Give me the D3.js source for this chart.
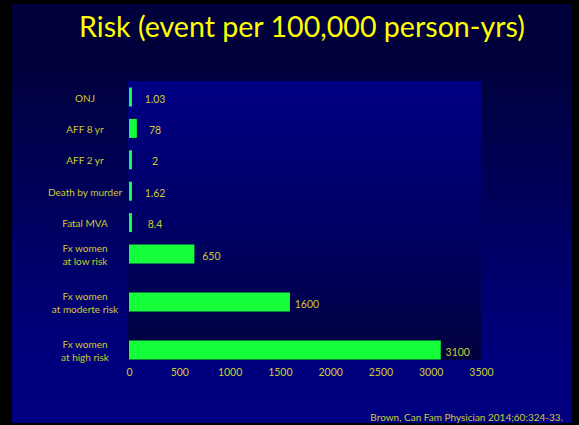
<!DOCTYPE html>
<html>
<head>
<meta charset="utf-8">
<script src="https://cdn.jsdelivr.net/npm/d3@7"></script>
<style>
  html, body { margin: 0; padding: 0; background: #000; }
  svg { display: block; }
</style>
</head>
<body>
<svg id="chart" width="579" height="425"></svg>
<script>
// ---- data ----
const categories = [
  ["ONJ"],
  ["AFF 8 yr"],
  ["AFF 2 yr"],
  ["Death by murder"],
  ["Fatal MVA"],
  ["Fx women", "at low risk"],
  ["Fx women", "at moderte risk"],
  ["Fx women", "at high risk"]
];
const values = [1.03, 78, 2, 1.62, 8.4, 650, 1600, 3100];
const valueLabels = ["1.03", "78", "2", "1.62", "8.4", "650", "1600", "3100"];
const tickValues = [0, 500, 1000, 1500, 2000, 2500, 3000, 3500];
const title = "Risk (event per 100,000 person-yrs)";
const source = "Brown, Can Fam Physician 2014;60:324-33.";

// ---- layout ----
const W = 579, H = 425;
const slide = {x: 12, y: 4, w: 560, h: 419};
const plot = {x0: 128, x1: 481, y0: 81, y1: 360};
const labelColor = "#cccc30";
const barColor = "#14ff3a";

const svg = d3.select("#chart");
const defs = svg.append("defs");

const bgGrad = defs.append("linearGradient").attr("id", "bg")
  .attr("x1", 0).attr("y1", 0).attr("x2", 0).attr("y2", 1);
bgGrad.append("stop").attr("offset", "0%").attr("stop-color", "#00003c");
bgGrad.append("stop").attr("offset", "12%").attr("stop-color", "#00003a");
bgGrad.append("stop").attr("offset", "60%").attr("stop-color", "#000068");
bgGrad.append("stop").attr("offset", "85%").attr("stop-color", "#00007e");
bgGrad.append("stop").attr("offset", "100%").attr("stop-color", "#000080");

const plotGrad = defs.append("linearGradient").attr("id", "plotbg")
  .attr("x1", 0).attr("y1", 0).attr("x2", 0).attr("y2", 1);
plotGrad.append("stop").attr("offset", "0%").attr("stop-color", "#000084");
plotGrad.append("stop").attr("offset", "50%").attr("stop-color", "#000066");
plotGrad.append("stop").attr("offset", "100%").attr("stop-color", "#00003e");

svg.append("rect").attr("width", W).attr("height", H).attr("fill", "#000");
svg.append("rect").attr("x", slide.x).attr("y", slide.y)
  .attr("width", slide.w).attr("height", slide.h).attr("fill", "url(#bg)");

svg.append("rect").attr("x", plot.x0).attr("y", plot.y0)
  .attr("width", plot.x1 - plot.x0).attr("height", plot.y1 - plot.y0)
  .attr("fill", "url(#plotbg)");

// title
svg.append("text").attr("x", 302).attr("y", 37)
  .attr("text-anchor", "middle")
  .attr("font-family", "Lato, 'Open Sans', sans-serif")
  .attr("font-size", 28.6).attr("fill", "#ffff00")
  .text(title);

// scales
const x = d3.scaleLinear().domain([0, 3500]).range([plot.x0 + 1, plot.x1]);
// piecewise: first five rows tighter, the three "Fx women" rows wider apart
const yIdx = d3.scaleLinear().domain([0, 5, 7]).range([97, 254, 350]);
const barH = 19;

const g = svg.append("g");

const rows = g.selectAll("g.row").data(values.map((v, i) => ({v, i})))
  .join("g").attr("class", "row");

rows.append("rect")
  .attr("x", x(0))
  .attr("y", d => yIdx(d.i) - barH / 2)
  .attr("width", d => Math.max(3, x(d.v) - x(0)))
  .attr("height", barH)
  .attr("fill", barColor);

rows.append("text")
  .attr("x", d => Math.max(x(0) + 9, x(d.v)) + 17)
  .attr("y", d => yIdx(d.i) + 2)
  .attr("dy", "0.35em")
  .attr("text-anchor", "middle")
  .attr("font-family", "Lato, sans-serif")
  .attr("font-size", 10.5)
  .attr("fill", labelColor)
  .text(d => valueLabels[d.i]);

// category labels
const cat = rows.append("text")
  .attr("text-anchor", "middle")
  .attr("font-family", "Lato, sans-serif")
  .attr("font-size", 10)
  .attr("fill", labelColor);
cat.each(function(d) {
  const lines = categories[d.i];
  const lh = 13;
  const start = yIdx(d.i) - (lines.length - 1) * lh / 2 + 1;
  d3.select(this).selectAll("tspan").data(lines).join("tspan")
    .attr("x", 85)
    .attr("y", (l, k) => start + k * lh)
    .attr("dy", "0.35em")
    .text(l => l);
});

// x axis (labels only)
const axis = d3.axisBottom(x).tickValues(tickValues).tickSize(0).tickPadding(0)
  .tickFormat(d3.format("d"));
const ax = svg.append("g").attr("transform", `translate(0, ${plot.y1 + 9})`).call(axis);
ax.select(".domain").remove();
ax.selectAll("text")
  .attr("font-family", "Lato, sans-serif")
  .attr("font-size", 10.5)
  .attr("fill", labelColor);

// source
svg.append("text").attr("x", 563).attr("y", 421)
  .attr("text-anchor", "end")
  .attr("font-family", "Lato, sans-serif")
  .attr("font-size", 10)
  .attr("fill", labelColor)
  .text(source);
</script>
</body>
</html>
